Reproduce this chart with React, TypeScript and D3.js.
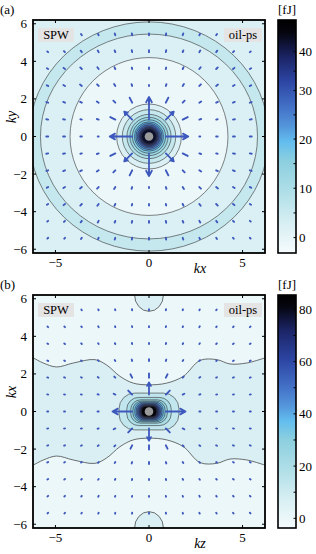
import * as d3 from "d3";

// quiver grid (k spacing 2π/7)
const gridK = [-5.39, -4.49, -3.59, -2.69, -1.8, -0.9, 0, 0.9, 1.8, 2.69, 3.59, 4.49, 5.39];

// arrow magnitudes for one quadrant, row = |vertical index|, col = |horizontal index|
const magA = [
  [0, 1.2, 0.1, 0.05, 0.08, 0.1, 0.1],
  [1.2, 0.6, 0.3, 0.1, 0.08, 0.1, 0.1],
  [0.1, 0.3, 0.15, 0.12, 0.1, 0.1, 0.1],
  [0.05, 0.1, 0.12, 0.12, 0.12, 0.1, 0.08],
  [0.08, 0.08, 0.1, 0.12, 0.12, 0.1, 0.08],
  [0.1, 0.1, 0.1, 0.1, 0.1, 0.08, 0.06],
  [0.1, 0.1, 0.1, 0.08, 0.08, 0.06, 0.06],
];
const magB = [
  [0, 1.05, 0.08, 0.06, 0.05, 0.05, 0.05],
  [0.65, 0.3, 0.1, 0.06, 0.05, 0.05, 0.05],
  [0.22, 0.2, 0.08, 0.06, 0.05, 0.05, 0.05],
  [0.1, 0.08, 0.06, 0.05, 0.05, 0.05, 0.05],
  [0.06, 0.06, 0.05, 0.05, 0.05, 0.05, 0.05],
  [0.05, 0.05, 0.05, 0.05, 0.05, 0.05, 0.05],
  [0.05, 0.05, 0.05, 0.05, 0.05, 0.05, 0.05],
];

const xTicks = [-5, 0, 5];
const yTicks = [-6, -4, -2, 0, 2, 4, 6];

// colormap
const cmapStops = [0, 0.12, 0.25, 0.38, 0.46, 0.52, 0.6, 0.72, 0.85, 0.95, 1];
const cmapColors = ["#f5fbfd", "#d8eff3", "#b0dfe8", "#8ccfdf", "#62bdee", "#5598dc", "#4473c8", "#2d46a4", "#1b2465", "#05060f", "#000000"];

// panel (a)
const cbarValuesA = [-3.1, 0, 10, 20, 30, 40, 46];
const cbarTicksA = [0, 5, 10, 15, 20, 25, 30, 35, 40];
const cbarLabelsA = [0, 10, 20, 30, 40];
const levelsA = [-1.3, 2.3, 5.9, 9.5, 13.1, 16.7, 20.3, 23.9, 27.5, 31.1, 34.7, 38.3, 41.9];
const bgLevelA = 1;
const ringRxA = [6.4, 5.8, 4.22, 1.73, 1.43, 1.18, 1.02, 0.89, 0.78, 0.7, 0.62, 0.55, 0.5, 0.45, 0.4];
const ringRyA = [6.1, 5.45, 4.2, 1.73, 1.43, 1.18, 1.02, 0.89, 0.78, 0.7, 0.62, 0.55, 0.5, 0.45, 0.4];
const ringLevelA = [2, 1, 0, 1, 2, 3, 4, 5, 6, 7, 8, 9, 10, 11, 12];

// panel (b)
const cbarValuesB = [-3.7, 85.5];
const cbarTicksB = [0, 10, 20, 30, 40, 50, 60, 70, 80];
const cbarLabelsB = [0, 20, 40, 60, 80];
const levelsB = [-0.3, 6.6, 13.5, 20.3, 27.2, 34, 40.9, 47.8, 54.6, 61.5, 68.3, 75.2, 82.1];
const bgLevelB = 0;
const bandLevelB = 1;
const waveX = [-6.4, -6.2, -5.65, -4.94, -4.05, -2.89, -2.26, -1.55, -0.84, 0, 0.94, 1.83, 2.73, 3.62, 4.33, 5.22, 6.2, 6.4];
const waveY = [2.9, 2.85, 2.58, 2.37, 2.58, 2.76, 2.47, 1.87, 1.51, 1.42, 1.51, 1.87, 2.72, 2.76, 2.53, 2.58, 2.85, 2.9];
const bumpY = [6.2, -6.2];
const bumpRx = 0.77;
const bumpRy = 0.87;
const stadiumW = [1.6, 1.19, 0.98, 0.86, 0.76, 0.68, 0.61, 0.55, 0.5, 0.45, 0.41];
const stadiumH = [0.98, 0.75, 0.62, 0.55, 0.5, 0.45, 0.41, 0.37, 0.34, 0.31, 0.28];
const stadiumLevel = [2, 3, 4, 5, 6, 7, 8, 9, 10, 11, 12];

// colorbar layout: share of the bar height at each of the cbarValues (the (a) bar is not evenly spaced)
const cbarFracA = [0, 0.066, 0.278, 0.489, 0.697, 0.864, 1];
const cbarFracB = [0, 1];

const L = 33, R = 265, CB0 = 278, CB1 = 296;
const serif = "Liberation Serif, serif";
const arrowColor = "#3d58bd";
const lineColor = "#333";
const minus = (v: number) => (v < 0 ? "\u2212" + Math.abs(v) : String(v));

function makeColor(values: number[]) {
  const c = d3.scaleLinear<string>().domain(cmapStops).range(cmapColors).interpolate(d3.interpolateRgb);
  const lo = values[0], hi = values[values.length - 1];
  return (v: number) => c((v - lo) / (hi - lo));
}

function Quiver({ x, y, mag }: { x: d3.ScaleLinear<number, number>; y: d3.ScaleLinear<number, number>; mag: number[][] }) {
  const items: JSX.Element[] = [];
  gridK.forEach((ky, j) => {
    gridK.forEach((kx, i) => {
      const m = mag[Math.abs(j - 6)][Math.abs(i - 6)];
      const r = Math.hypot(kx, ky);
      if (m === 0 || r === 0) return;
      const x0 = x(kx), y0 = y(ky);
      const x1 = x(kx + (m * kx) / r), y1 = y(ky + (m * ky) / r);
      const len = Math.hypot(x1 - x0, y1 - y0);
      const a = Math.atan2(y1 - y0, x1 - x0);
      const h = Math.min(len * 0.33, 6);
      const head = len > 10
        ? `M${x1 - h * Math.cos(a - 0.5)},${y1 - h * Math.sin(a - 0.5)}L${x1},${y1}L${x1 - h * Math.cos(a + 0.5)},${y1 - h * Math.sin(a + 0.5)}`
        : "";
      items.push(
        <path key={`${i}-${j}`} d={`M${x0},${y0}L${x1},${y1}${head}`} fill="none" stroke={arrowColor}
          strokeWidth={len > 10 ? 1.8 : 1.9} strokeLinecap="round" strokeLinejoin="round" />
      );
    });
  });
  return <g>{items}</g>;
}

function Frame({ top, bottom, label, xLabel, yLabel, cbarValues, cbarFrac, cbarTicks, cbarLabels, id, children }: any) {
  const x = d3.scaleLinear([-6.2, 6.2], [L, R]);
  const y = d3.scaleLinear([-6.2, 6.2], [bottom, top]);
  const cb = d3.scaleLinear(cbarValues, cbarFrac.map((f: number) => bottom - f * (bottom - top)));
  const lo = cbarValues[0], hi = cbarValues[cbarValues.length - 1];
  return (
    <g fontFamily={serif}>
      <defs>
        <clipPath id={`clip-${id}`}>
          <rect x={L} y={top} width={R - L} height={bottom - top} />
        </clipPath>
        <linearGradient id={`grad-${id}`} x1="0" y1="1" x2="0" y2="0">
          {cmapStops.map((s, i) => (
            <stop key={i} offset={(bottom - cb(lo + s * (hi - lo))) / (bottom - top)} stopColor={cmapColors[i]} />
          ))}
        </linearGradient>
      </defs>
      <g clipPath={`url(#clip-${id})`}>{children(x, y)}</g>
      <rect x={L} y={top} width={R - L} height={bottom - top} fill="none" stroke="#000" strokeWidth={1.8} />
      {xTicks.map((t) => (
        <g key={t}>
          <line x1={x(t)} x2={x(t)} y1={bottom} y2={bottom - 3} stroke="#000" />
          <line x1={x(t)} x2={x(t)} y1={top} y2={top + 3} stroke="#000" />
          <text x={x(t)} y={bottom + 14} textAnchor="middle" fontSize={13}>{minus(t)}</text>
        </g>
      ))}
      {yTicks.map((t) => (
        <g key={t}>
          <line x1={L} x2={L + 3} y1={y(t)} y2={y(t)} stroke="#000" />
          <line x1={R} x2={R - 3} y1={y(t)} y2={y(t)} stroke="#000" />
          <text x={27} y={y(t) + 4.5} textAnchor="end" fontSize={13}>{minus(t)}</text>
        </g>
      ))}
      <text x={200} y={bottom + 20} textAnchor="middle" fontSize={14} fontStyle="italic">{xLabel}</text>
      <text transform={`translate(16,${top + 97}) rotate(-90)`} textAnchor="middle" fontSize={14} fontStyle="italic">{yLabel}</text>
      <text x={0} y={top - 6} fontSize={13}>{label}</text>
      <rect x={38} y={top + 8} width={36} height={14} fill="#e4e4e4" />
      <text x={56} y={top + 19} textAnchor="middle" fontSize={12.5}>SPW</text>
      <rect x={224} y={top + 8} width={38} height={14} fill="#e4e4e4" />
      <text x={243} y={top + 19} textAnchor="middle" fontSize={12.5}>oil-ps</text>
      <rect x={CB0} y={top} width={CB1 - CB0} height={bottom - top} fill={`url(#grad-${id})`} stroke="#000" strokeWidth={1.6} />
      {cbarTicks.map((t: number) => (
        <line key={t} x1={CB1} x2={CB1 - 2.5} y1={cb(t)} y2={cb(t)} stroke="#000" />
      ))}
      {cbarLabels.map((t: number) => (
        <text key={t} x={299} y={cb(t) + 4.5} fontSize={13}>{t}</text>
      ))}
      <text x={(CB0 + CB1) / 2} y={top - 6} textAnchor="middle" fontSize={13}>[fJ]</text>
    </g>
  );
}

export default function App() {
  const colA = makeColor(cbarValuesA);
  const colB = makeColor(cbarValuesB);
  return (
    <svg width={316} height={554} style={{ position: "absolute", left: 0, top: 0 }}>
      <rect width={316} height={554} fill="#fff" />
      <Frame id="a" top={20} bottom={253} label="(a)" xLabel="kx" yLabel="ky"
        cbarValues={cbarValuesA} cbarFrac={cbarFracA} cbarTicks={cbarTicksA} cbarLabels={cbarLabelsA}>
        {(x: any, y: any) => (
          <g>
            <rect x={L} y={20} width={R - L} height={233} fill={colA(levelsA[bgLevelA])} />
            {ringRxA.map((r, i) => (
              <ellipse key={i} cx={x(0)} cy={y(0)} rx={x(r) - x(0)} ry={y(0) - y(ringRyA[i])}
                fill={colA(levelsA[ringLevelA[i]])} stroke={lineColor} strokeWidth={0.6} />
            ))}
            <circle cx={x(0)} cy={y(0)} r={4.3} fill="#9a9a9a" />
            <Quiver x={x} y={y} mag={magA} />
          </g>
        )}
      </Frame>
      <Frame id="b" top={295} bottom={528} label="(b)" xLabel="kz" yLabel="kx"
        cbarValues={cbarValuesB} cbarFrac={cbarFracB} cbarTicks={cbarTicksB} cbarLabels={cbarLabelsB}>
        {(x: any, y: any) => {
          const idx = waveX.map((_, i) => i);
          const up = d3.line<number>().curve(d3.curveCatmullRom)
            .x((k) => x(waveX[k])).y((k) => y(waveY[k]))(idx) as string;
          const down = d3.line<number>().curve(d3.curveCatmullRom)
            .x((k) => x(waveX[k])).y((k) => y(-waveY[k]))(idx.slice().reverse()) as string;
          return (
            <g>
              <rect x={L} y={295} width={R - L} height={233} fill={colB(levelsB[bgLevelB])} />
              <path d={up + "L" + down.slice(1) + "Z"} fill={colB(levelsB[bandLevelB])} stroke="none" />
              <path d={up} fill="none" stroke={lineColor} strokeWidth={0.7} />
              <path d={down} fill="none" stroke={lineColor} strokeWidth={0.7} />
              {bumpY.map((b, i) => (
                <ellipse key={i} cx={x(0)} cy={y(b)} rx={x(bumpRx) - x(0)} ry={y(0) - y(bumpRy)}
                  fill={colB(levelsB[bandLevelB])} stroke={lineColor} strokeWidth={0.7} />
              ))}
              {stadiumW.map((w, i) => {
                const hw = x(w) - x(0), hh = y(0) - y(stadiumH[i]);
                return (
                  <rect key={i} x={x(0) - hw} y={y(0) - hh} width={2 * hw} height={2 * hh}
                    rx={hh * 0.85} ry={hh * 0.85}
                    fill={colB(levelsB[stadiumLevel[i]])} stroke={lineColor} strokeWidth={0.6} />
                );
              })}
              <circle cx={x(0)} cy={y(0)} r={4.3} fill="#9a9a9a" />
              <Quiver x={x} y={y} mag={magB} />
            </g>
          );
        }}
      </Frame>
    </svg>
  );
}
